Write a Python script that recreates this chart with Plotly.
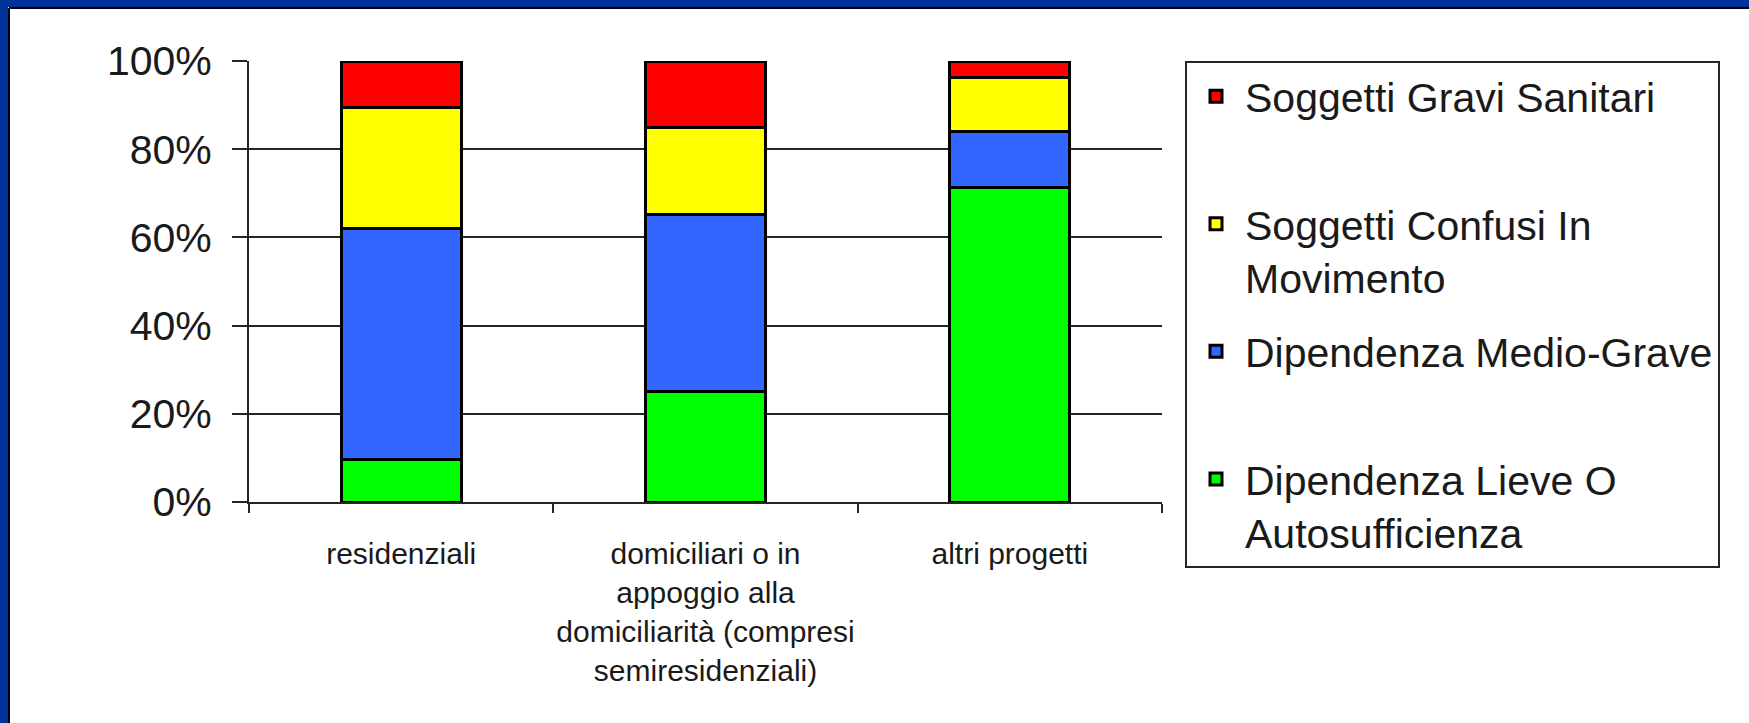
import plotly.graph_objects as go

# Categories along the x axis (tick labels wrap onto several lines)
categories = ["residenziali", "domiciliari", "altri progetti"]
category_labels = [
    "residenziali",
    "domiciliari o in<br>appoggio alla<br>domiciliarità (compresi<br>semiresidenziali)",
    "altri progetti",
]

# Share of each group within every category (percent)
lieve_autosufficienza = [9.7, 25.0, 71.4]
medio_grave = [52.4, 40.3, 12.7]
confusi_movimento = [27.4, 19.6, 12.2]
gravi_sanitari = [10.5, 15.1, 3.7]

series_names = [
    "Dipendenza Lieve O<br>Autosufficienza",
    "Dipendenza Medio-Grave<br> ",
    "Soggetti Confusi In<br>Movimento",
    "Soggetti Gravi Sanitari<br> ",
]
series_values = [lieve_autosufficienza, medio_grave, confusi_movimento, gravi_sanitari]
series_colors = ["#00FF00", "#3366FF", "#FFFF00", "#FF0000"]

y_ticks = [0, 20, 40, 60, 80, 100]

W, H = 1749, 723
L, R, T, B = 249, 1162, 61, 502  # plot area in pixels
PW, PH = R - L, B - T


def px_x(px):
    return (px - L) / PW


def px_y(py):
    return (B - py) / PH


fig = go.Figure()
for i, (name, vals, col) in enumerate(zip(series_names, series_values, series_colors)):
    fig.add_trace(go.Bar(
        x=categories,
        y=vals,
        name=name,
        legendgroup=f"g{i}",
        legendrank=100 - i,
        marker=dict(color=col, line=dict(color="#000000", width=3)),
        hoverinfo="name+y",
    ))

text_col = "#1a1a1a"
line_col = "#262626"

fig.update_layout(
    width=W,
    height=H,
    barmode="stack",
    bargap=0.605,
    paper_bgcolor="#FFFFFF",
    plot_bgcolor="#FFFFFF",
    margin=dict(l=L, r=W - R, t=T, b=H - B, pad=0, autoexpand=False),
    font=dict(family="Liberation Sans, Arial, sans-serif", color=text_col),
    showlegend=True,
    legend=dict(
        x=px_x(1185),
        y=px_y(61),
        xanchor="left",
        yanchor="top",
        bgcolor="#FFFFFF",
        bordercolor=line_col,
        borderwidth=2,
        font=dict(size=41, color=text_col),
        traceorder="grouped",
        tracegroupgap=18,
        valign="top",
        itemwidth=48,
        maxheight=700,
    ),
    xaxis=dict(
        tickmode="array",
        tickvals=categories,
        ticktext=category_labels,
        tickfont=dict(size=30, color=text_col),
        tickangle=0,
        automargin=False,
        ticks="outside",
        tickson="boundaries",
        ticklen=9,
        tickwidth=2,
        tickcolor=line_col,
        showline=True,
        linecolor=line_col,
        linewidth=2,
        showgrid=False,
        ticklabelstandoff=24,
        fixedrange=True,
    ),
    yaxis=dict(
        range=[0, 100],
        tickmode="array",
        tickvals=y_ticks,
        ticktext=[f"{v}%" for v in y_ticks],
        tickfont=dict(size=41, color=text_col),
        automargin=False,
        ticks="outside",
        ticklen=15,
        tickwidth=2,
        tickcolor=line_col,
        showline=True,
        linecolor=line_col,
        linewidth=2,
        showgrid=True,
        gridcolor=line_col,
        gridwidth=2,
        zeroline=False,
        ticklabelstandoff=12,
        fixedrange=True,
    ),
    shapes=[
        # blue frame along the left and top edges of the slide
        dict(type="rect", xref="paper", yref="paper", layer="above",
             x0=px_x(0), x1=px_x(8), y0=px_y(H), y1=px_y(0),
             fillcolor="#003399", line=dict(width=0)),
        dict(type="rect", xref="paper", yref="paper", layer="above",
             x0=px_x(0), x1=px_x(W), y0=px_y(7), y1=px_y(0),
             fillcolor="#003399", line=dict(width=0)),
        dict(type="line", xref="paper", yref="paper", layer="above",
             x0=px_x(9), x1=px_x(9), y0=px_y(H), y1=px_y(8),
             line=dict(color="#000000", width=2)),
        dict(type="line", xref="paper", yref="paper", layer="above",
             x0=px_x(9), x1=px_x(W), y0=px_y(8), y1=px_y(8),
             line=dict(color="#000000", width=2)),
    ],
)

fig.write_html("out.html")
